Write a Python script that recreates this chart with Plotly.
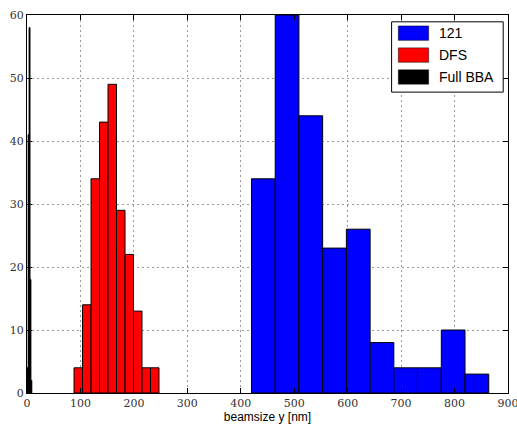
import plotly.graph_objects as go

# Data: histogram bin edges and counts
edges_121 = [420, 464.4, 508.8, 553.2, 597.6, 642.0, 686.4, 730.8, 775.2, 819.6, 864.0]
counts_121 = [34, 60, 44, 23, 26, 8, 4, 4, 10, 3]

edges_dfs = [88, 103.9, 119.8, 135.7, 151.6, 167.5, 183.4, 199.3, 215.2, 231.1, 247.0]
counts_dfs = [4, 14, 34, 43, 49, 29, 22, 13, 4, 4]

edges_bba = [0.5, 2.2, 3.9, 5.6, 7.3, 9.0]
counts_bba = [4, 41, 58, 18, 2]

series = [("121", edges_121, counts_121, "#0000ff"),
          ("DFS", edges_dfs, counts_dfs, "#ff0000"),
          ("Full BBA", edges_bba, counts_bba, "#000000")]

x_ticks = [0, 100, 200, 300, 400, 500, 600, 700, 800, 900]
y_ticks = [0, 10, 20, 30, 40, 50, 60]

fig = go.Figure()
for name, edges, counts, color in series:
    centers = [(a + b) / 2 for a, b in zip(edges[:-1], edges[1:])]
    widths = [b - a for a, b in zip(edges[:-1], edges[1:])]
    fig.add_trace(go.Bar(x=centers, y=counts, width=widths, name=name,
                         marker=dict(color=color, line=dict(color="black", width=1)),
                         showlegend=False))

axis_common = dict(showline=True, linecolor="black", linewidth=1, mirror="ticks",
                   ticks="inside", ticklen=5, tickcolor="black", automargin=False,
                   showgrid=True, gridcolor="#9a9a9a", griddash="2px,3px", gridwidth=1,
                   zeroline=False, ticklabeloverflow="allow",
                   tickfont=dict(family="DejaVu Serif", size=11, color="#333"))

fig.update_xaxes(range=[0, 900], tickvals=x_ticks, ticktext=[str(v) for v in x_ticks],
                 title=dict(text="beamsize y [nm]", font=dict(family="Liberation Sans", size=12, color="black"), standoff=2),
                 **axis_common)
fig.update_yaxes(range=[0, 60], tickvals=y_ticks, ticktext=[str(v) for v in y_ticks],
                 **axis_common)

# Manual legend (matplotlib-like wide patches)
shapes = [dict(type="rect", xref="paper", yref="paper", x0=0.758, x1=0.990, y0=0.796, y1=0.982,
               line=dict(color="black", width=1), fillcolor="white", layer="above")]
annotations = []
row_y = [0.952, 0.894, 0.836]
for (name, _, _, color), yy in zip(series, row_y):
    shapes.append(dict(type="rect", xref="paper", yref="paper", x0=0.772, x1=0.835,
                       y0=yy - 0.019, y1=yy + 0.019, fillcolor=color,
                       line=dict(color="black", width=0.5), layer="above"))
    annotations.append(dict(xref="paper", yref="paper", x=0.852, y=yy, text=name,
                            showarrow=False, xanchor="left", yanchor="middle",
                            font=dict(family="Liberation Sans", size=14, color="black")))

fig.update_layout(width=517, height=424, margin=dict(l=27, r=9, t=15, b=31),
                  plot_bgcolor="white", paper_bgcolor="white",
                  barmode="overlay", shapes=shapes, annotations=annotations)

fig.write_html("out.html", config={"displayModeBar": False},
               post_script="document.body.style.margin='0';document.body.style.overflow='hidden';")
